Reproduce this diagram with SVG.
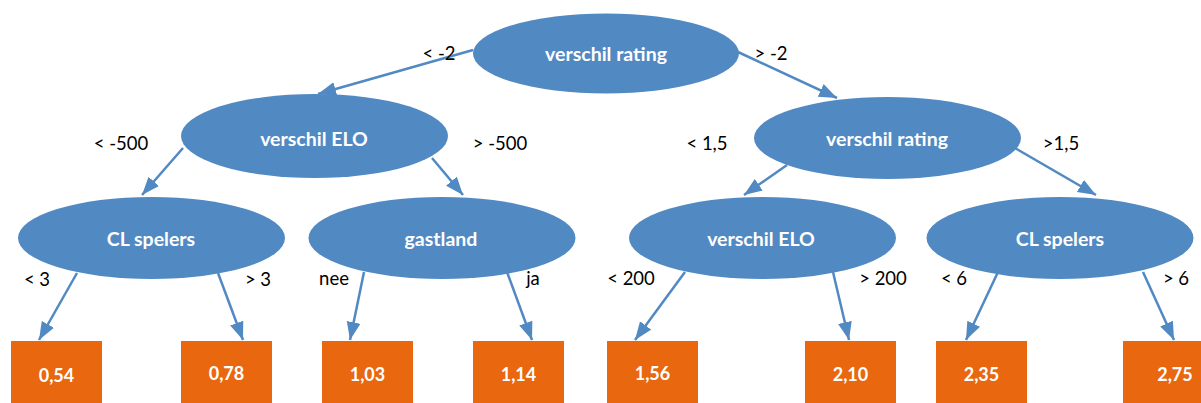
<svg xmlns="http://www.w3.org/2000/svg" width="1201" height="403" viewBox="0 0 1201 403">
<style>
.n{fill:#5189C3;}
.leaf{fill:#E8670F;}
.nt{font-family:Lato,"Open Sans",sans-serif;font-weight:bold;font-size:19.5px;fill:#fff;text-anchor:middle;dominant-baseline:central;}
.lt{font-family:Lato,"Open Sans",sans-serif;font-weight:bold;font-size:18px;fill:#fff;text-anchor:middle;dominant-baseline:central;}
.el{font-family:Lato,"Open Sans",sans-serif;font-size:18.5px;fill:#000;text-anchor:middle;dominant-baseline:central;}
.c{stroke:#5189C3;stroke-width:2.5;fill:none;marker-end:url(#ah);}
</style>
<defs>
<marker id="ah" markerUnits="userSpaceOnUse" markerWidth="20" markerHeight="16" refX="18" refY="7" orient="auto">
<path d="M0,0 L18,7 L0,14 z" fill="#5189C3"/>
</marker>
</defs>
<rect width="1201" height="403" fill="#fff"/>
<g id="connectors">
<line class="c" x1="473" y1="50" x2="318" y2="94"/>
<line class="c" x1="738" y1="52" x2="837" y2="98"/>
<line class="c" x1="183" y1="148" x2="142" y2="195"/>
<line class="c" x1="432" y1="158" x2="463" y2="195"/>
<line class="c" x1="787" y1="165" x2="744" y2="195"/>
<line class="c" x1="1015" y1="148" x2="1096" y2="195"/>
<line class="c" x1="77" y1="273" x2="39" y2="340"/>
<line class="c" x1="218" y1="273" x2="243" y2="340"/>
<line class="c" x1="364" y1="272" x2="350" y2="340"/>
<line class="c" x1="507" y1="272" x2="532" y2="340"/>
<line class="c" x1="685" y1="272" x2="635" y2="340"/>
<line class="c" x1="833" y1="272" x2="849" y2="340"/>
<line class="c" x1="998" y1="272" x2="966" y2="340"/>
<line class="c" x1="1143" y1="272" x2="1174" y2="340"/>
</g>
<g id="edge-labels">
<text class="el" x="439" y="53">&lt; -2</text>
<text class="el" x="771" y="53">&gt; -2</text>
<text class="el" x="121" y="143">&lt; -500</text>
<text class="el" x="500" y="143">&gt; -500</text>
<text class="el" x="707" y="143">&lt; 1,5</text>
<text class="el" x="1061" y="143">&gt;1,5</text>
<text class="el" x="37" y="279">&lt; 3</text>
<text class="el" x="258" y="279">&gt; 3</text>
<text class="el" x="334" y="278">nee</text>
<text class="el" x="533" y="278">ja</text>
<text class="el" x="631" y="278">&lt; 200</text>
<text class="el" x="883" y="278">&gt; 200</text>
<text class="el" x="954" y="278">&lt; 6</text>
<text class="el" x="1176" y="278">&gt; 6</text>
</g>
<g id="n-root"><ellipse class="n" cx="606" cy="53.5" rx="133" ry="40"/><text class="nt" x="606" y="53">verschil rating</text></g>
<g id="n-elo1"><ellipse class="n" cx="314.5" cy="136" rx="133.5" ry="42"/><text class="nt" x="314" y="138">verschil ELO</text></g>
<g id="n-rating2"><ellipse class="n" cx="887.5" cy="138" rx="133.5" ry="41"/><text class="nt" x="887" y="138">verschil rating</text></g>
<g id="n-cl1"><ellipse class="n" cx="151.5" cy="238" rx="133.5" ry="41"/><text class="nt" x="151" y="238">CL spelers</text></g>
<g id="n-gastland"><ellipse class="n" cx="442" cy="238" rx="133.5" ry="41"/><text class="nt" x="441" y="238">gastland</text></g>
<g id="n-elo2"><ellipse class="n" cx="762.5" cy="238" rx="133.5" ry="41"/><text class="nt" x="761" y="238">verschil ELO</text></g>
<g id="n-cl2"><ellipse class="n" cx="1060" cy="238" rx="133.5" ry="41"/><text class="nt" x="1060" y="238">CL spelers</text></g>
<g id="leaf-054"><rect class="leaf" x="11" y="341" width="91" height="62"/><text class="lt" x="56.5" y="375">0,54</text></g>
<g id="leaf-078"><rect class="leaf" x="181" y="341" width="91" height="62"/><text class="lt" x="226.5" y="373">0,78</text></g>
<g id="leaf-103"><rect class="leaf" x="322" y="341" width="91" height="62"/><text class="lt" x="367.5" y="374">1,03</text></g>
<g id="leaf-114"><rect class="leaf" x="473" y="341" width="91" height="62"/><text class="lt" x="518.5" y="374">1,14</text></g>
<g id="leaf-156"><rect class="leaf" x="607" y="341" width="91" height="62"/><text class="lt" x="652.5" y="373">1,56</text></g>
<g id="leaf-210"><rect class="leaf" x="805" y="341" width="91" height="62"/><text class="lt" x="850.5" y="374">2,10</text></g>
<g id="leaf-235"><rect class="leaf" x="936" y="341" width="91" height="62"/><text class="lt" x="981.5" y="374">2,35</text></g>
<g id="leaf-275"><rect class="leaf" x="1123" y="341" width="91" height="62"/><text class="lt" x="1175" y="374">2,75</text></g>
</svg>
